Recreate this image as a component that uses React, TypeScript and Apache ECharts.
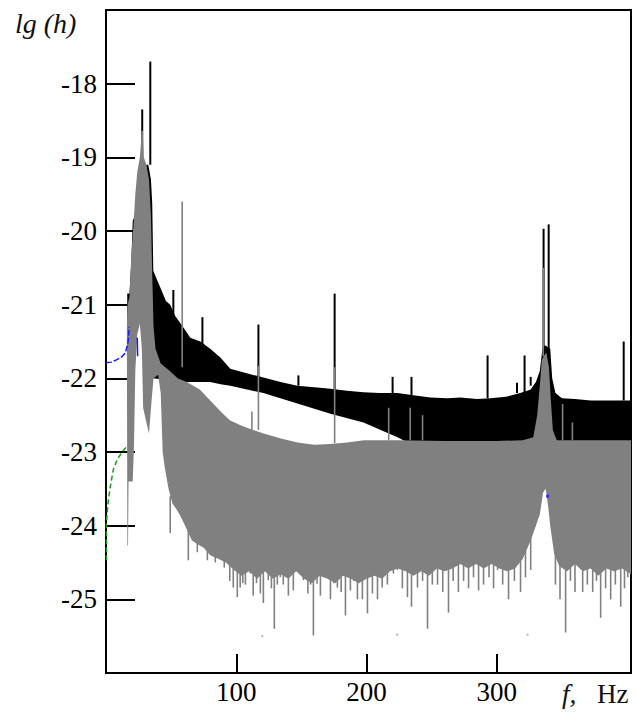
import React, { useEffect, useRef } from "react";
import * as echarts from "echarts";

const X_MIN = 0;
const X_MAX = 403;
const Y_MIN = -26;
const Y_MAX = -17;
const X_TICKS = [100, 200, 300];
const Y_TICKS = [-18, -19, -20, -21, -22, -23, -24, -25];

// black spectrum envelope (upper edge, lower edge)
const BLACK_TOP: [number, number][] = [
  [16.3, -20.85], [18, -20.85], [19.5, -20.4], [20.5, -19.86], [22, -19.8], [24, -19.5], [26, -19.3],
  [27.5, -19.2], [29, -19.3], [31, -19.1], [32.5, -19.1], [34.5, -19.3], [35.5, -19.63], [36.3, -20.54],
  [39.3, -20.67], [42.5, -20.8], [46, -20.95], [49.3, -21.0], [53, -21.15], [57, -21.25], [61, -21.35],
  [64.7, -21.45], [72.4, -21.5], [80, -21.6], [88, -21.72], [95.4, -21.87], [108, -21.93],
  [120.8, -21.99], [134, -22.05], [146.9, -22.1], [160, -22.12], [172.3, -22.14], [185, -22.17],
  [197.6, -22.19], [210, -22.2], [223.7, -22.2], [236, -22.23], [249, -22.26], [262, -22.27],
  [272, -22.26], [285, -22.28], [295, -22.27], [307, -22.25], [318, -22.2], [326, -22.15], [330, -22.05],
  [333, -21.9], [335, -21.6], [337, -21.55], [341, -21.6], [342.5, -22.0], [345, -22.2], [350, -22.27],
  [360, -22.28], [372, -22.3], [385, -22.3], [403, -22.3],
];
const BLACK_BOTTOM: [number, number][] = [
  [16.3, -21.7], [19, -21.4], [21, -20.8], [27, -20.5], [30, -20.9], [33, -21.5], [36, -22.0],
  [60, -22.05], [80, -22.05], [88, -22.08], [95.4, -22.1], [120.8, -22.2], [146.9, -22.34],
  [172.3, -22.48], [197.6, -22.6], [223.7, -22.8], [235, -22.9], [403, -22.9],
];

// grey spectrum envelope
const GREY_TOP: [number, number][] = [
  [16, -21.3], [16.5, -21.0], [18, -20.9], [19.5, -20.3], [21, -19.95], [22.5, -19.5], [24, -19.2],
  [26, -19.0], [27.3, -18.7], [28.3, -18.7], [29, -19.0], [31, -19.1], [33, -19.3], [34.5, -19.8],
  [35.5, -20.6], [36.5, -21.3], [38, -21.6], [42, -21.8], [49, -21.9], [55, -22.0], [62, -22.05],
  [72, -22.15], [80, -22.3], [88, -22.45], [95, -22.57], [105, -22.65], [121, -22.75], [135, -22.82],
  [147, -22.87], [160, -22.9], [172, -22.89], [185, -22.87], [198, -22.84], [224, -22.84],
  [260, -22.85], [300, -22.85], [320, -22.84], [328, -22.8], [331, -22.5], [333, -22.1],
  [334.5, -21.75], [336, -21.7], [338, -21.65], [340, -21.85], [341.5, -22.3], [343, -22.7],
  [346, -22.84], [403, -22.84],
];
const GREY_BOTTOM: [number, number][] = [
  [16, -21.3], [16.4, -24.27], [16.9, -24.27], [17.3, -23.4], [20.5, -23.4], [21.5, -22.9], [22.5, -21.9],
  [24, -21.4], [26, -21.26], [27.5, -21.6], [28.5, -22.4], [31, -22.6], [33, -22.75], [35, -22.3],
  [36.5, -22.0], [40, -21.95], [42, -22.2], [43.5, -23.0], [45, -23.2], [48, -23.5], [51, -23.7],
  [55, -23.8], [58, -23.9], [62, -24.05], [66, -24.2], [70, -24.25], [75, -24.3], [80, -24.4],
  [86, -24.45], [92, -24.5], [98, -24.6], [104, -24.68], [110, -24.62], [116, -24.72], [122, -24.62],
  [128, -24.72], [134, -24.66], [140, -24.72], [146, -24.62], [152, -24.72], [158, -24.78], [164, -24.68],
  [170, -24.72], [176, -24.78], [182, -24.68], [188, -24.72], [194, -24.78], [200, -24.72], [206, -24.68],
  [212, -24.72], [218, -24.62], [224, -24.58], [230, -24.62], [236, -24.68], [242, -24.62], [248, -24.68],
  [254, -24.58], [260, -24.62], [266, -24.58], [272, -24.52], [278, -24.58], [284, -24.52], [290, -24.58],
  [296, -24.52], [302, -24.58], [308, -24.62], [314, -24.58], [320, -24.45], [326, -24.2], [330, -24.0],
  [333, -23.85], [335.5, -23.55], [337.5, -23.5], [339.5, -23.75], [341, -24.0], [344, -24.38],
  [348, -24.55], [354, -24.62], [360, -24.52], [366, -24.62], [372, -24.58], [378, -24.68], [384, -24.58],
  [390, -24.62], [396, -24.58], [403, -24.66],
];

// narrow lines: [frequency, from, to]
const BLACK_SPIKES: [number, number, number][] = [
  [27.8, -19.2, -18.35], [34.0, -19.1, -17.7], [51.7, -21.2, -20.8], [74.0, -21.55, -21.17],
  [117.0, -22.0, -21.27], [147.7, -22.1, -21.96], [175.5, -22.15, -20.85], [220.0, -22.2, -21.98],
  [234.5, -22.23, -21.98], [292.9, -22.27, -21.69], [315.5, -22.2, -22.06], [321.3, -22.2, -21.69],
  [326.0, -22.1, -21.98], [335.9, -21.6, -19.97], [339.8, -21.6, -19.91], [397.4, -22.3, -21.5],
];
const GREY_SPIKES_UP: [number, number, number][] = [
  [27.8, -19.0, -18.64], [58.5, -21.85, -19.6], [112, -22.7, -22.45], [117.0, -22.7, -21.83],
  [175.5, -22.88, -21.85], [217, -22.84, -22.4], [233.5, -22.84, -22.4], [243, -22.84, -22.5],
  [335.6, -21.7, -20.5], [350.5, -22.84, -22.35], [358, -22.84, -22.6],
];
const GREY_SPIKES_DOWN: [number, number, number][] = [
  [49.3, -23.6, -24.1], [63.2, -24.0, -24.47], [70.1, -24.2, -24.36], [77.8, -24.3, -24.47],
  [83.9, -24.3, -24.5], [90.8, -24.4, -24.57], [95, -24.4, -24.75], [97.7, -24.4, -24.84],
  [100.8, -24.4, -24.97], [103, -24.4, -24.84], [105, -24.4, -24.78], [107, -24.4, -24.8],
  [110.8, -24.4, -24.65], [113, -24.4, -24.95], [115.5, -24.4, -24.78], [118.5, -24.4, -24.92],
  [120.8, -24.4, -25.05], [124.6, -24.4, -24.74], [127, -24.4, -24.85], [129.2, -24.4, -25.4],
  [131.5, -24.4, -24.8], [133.8, -24.4, -24.7], [136.1, -24.4, -24.8], [140, -24.4, -24.95],
  [143.8, -24.4, -24.88], [147.7, -24.4, -24.6], [151.5, -24.4, -24.74], [155, -24.4, -24.92],
  [157, -24.4, -24.8], [159.2, -24.4, -25.49], [162, -24.4, -24.79], [164.6, -24.4, -24.95],
  [168.4, -24.4, -24.6], [172.3, -24.4, -25.0], [175, -24.4, -24.78], [177.6, -24.4, -24.84],
  [180.5, -24.4, -24.9], [183.8, -24.4, -25.22], [187.6, -24.4, -24.88], [190.2, -24.4, -24.75],
  [193, -24.4, -25.0], [196.8, -24.4, -25.0], [200.7, -24.4, -25.19], [204.5, -24.4, -24.92],
  [208.4, -24.4, -25.0], [212, -24.4, -24.84], [216, -24.4, -24.8], [220.6, -24.4, -24.65],
  [223.7, -24.3, -24.6], [227.5, -24.3, -24.85], [231.4, -24.3, -24.97], [234.5, -24.3, -25.1],
  [239.1, -24.3, -24.84], [243, -24.3, -24.75], [246.8, -24.3, -25.4], [250.5, -24.3, -24.8],
  [254.5, -24.3, -24.8], [258.5, -24.3, -24.9], [262.9, -24.3, -25.18], [266.5, -24.3, -24.75],
  [270.5, -24.3, -24.9], [274.5, -24.3, -24.75], [278.3, -24.3, -24.85], [282.1, -24.3, -24.7],
  [286, -24.3, -24.88], [289.8, -24.3, -24.8], [294, -24.3, -24.7], [297.5, -24.3, -24.85],
  [300.6, -24.3, -24.6], [304.5, -24.3, -24.8], [309, -24.3, -25.0], [313.5, -24.3, -24.75],
  [318.2, -24.3, -24.9], [322, -24.2, -24.7], [326, -24.0, -24.6], [345, -24.2, -24.8],
  [348.5, -24.3, -25.0], [352.8, -24.3, -25.45], [356.5, -24.3, -24.75], [360, -24.3, -24.9],
  [365.9, -24.3, -24.9], [369.5, -24.3, -24.8], [373.6, -24.3, -24.9], [376.5, -24.3, -24.75],
  [379.7, -24.3, -25.25], [383.5, -24.3, -24.85], [387.4, -24.3, -25.0], [391, -24.3, -24.8],
  [395.1, -24.3, -25.1], [398, -24.3, -24.85], [400.5, -24.3, -24.7],
];
const GREY_DOTS: [number, number][] = [[120, -25.5], [223.5, -25.48], [323.6, -25.48]];

// model curves at low frequency
const BLUE_CURVE: [number, number][] = [
  [0, -21.79], [4, -21.78], [8, -21.75], [12, -21.71], [15, -21.65], [17, -21.5], [17.8, -21.3],
];
const BLUE_NOTCH: [number, number][] = [[24.0, -21.45], [24.3, -21.7]];
const BLUE_DOT: [number, number][] = [[339, -23.6]];
const GREEN_CURVE: [number, number][] = [
  [0.3, -24.47], [0.3, -23.97], [1.5, -23.7], [3.2, -23.48], [5.5, -23.25], [8.6, -23.1],
  [12.4, -23.0], [14.8, -22.95], [16.5, -22.92],
];

const FONT = "'Liberation Serif', 'Times New Roman', serif";

function bandSeries(top: [number, number][], bottom: [number, number][], color: string) {
  return {
    type: "custom",
    coordinateSystem: "cartesian2d",
    clip: true,
    silent: true,
    data: top,
    encode: { x: 0, y: 1 },
    renderItem: (params: any, api: any) => {
      if (params.dataIndex !== 0) return null;
      const pts = [
        ...top.map((p) => api.coord(p)),
        ...bottom.slice().reverse().map((p) => api.coord(p)),
      ];
      return { type: "polygon", shape: { points: pts }, style: { fill: color } };
    },
  };
}

function spikeSeries(data: [number, number, number][], color: string, width: number) {
  return {
    type: "custom",
    coordinateSystem: "cartesian2d",
    clip: true,
    silent: true,
    data,
    encode: { x: 0, y: [1, 2] },
    renderItem: (_params: any, api: any) => {
      const a = api.coord([api.value(0), api.value(1)]);
      const b = api.coord([api.value(0), api.value(2)]);
      return {
        type: "line",
        shape: { x1: a[0], y1: a[1], x2: b[0], y2: b[1] },
        style: { stroke: color, lineWidth: width },
      };
    },
  };
}

export default function App() {
  const ref = useRef<HTMLDivElement>(null);
  useEffect(() => {
    if (!ref.current) return;
    const chart = echarts.init(ref.current, undefined, { renderer: "svg" });
    chart.setOption({
      animation: false,
      backgroundColor: "#ffffff",
      grid: {
        left: 106,
        right: 6,
        top: 10,
        bottom: 42,
        show: true,
        borderColor: "#000",
        borderWidth: 2,
        backgroundColor: "transparent",
      },
      xAxis: {
        type: "value",
        min: X_MIN,
        max: X_MAX,
        splitLine: { show: false },
        axisLine: { show: true, lineStyle: { color: "#000", width: 2 } },
        axisTick: {
          show: true,
          inside: true,
          length: 19,
          customValues: X_TICKS,
          lineStyle: { color: "#000", width: 2 },
        },
        axisLabel: {
          customValues: X_TICKS,
          margin: 5,
          color: "#000",
          fontSize: 27,
          fontFamily: FONT,
        },
      },
      yAxis: {
        type: "value",
        min: Y_MIN,
        max: Y_MAX,
        splitLine: { show: false },
        axisLine: { show: true, lineStyle: { color: "#000", width: 2 } },
        axisTick: {
          show: true,
          inside: true,
          length: 29,
          customValues: Y_TICKS,
          lineStyle: { color: "#000", width: 2 },
        },
        axisLabel: {
          customValues: Y_TICKS,
          margin: 9,
          color: "#000",
          fontSize: 27,
          fontFamily: FONT,
        },
      },
      graphic: [
        {
          type: "text",
          left: 15,
          top: 9,
          style: { text: "lg (h)", font: `italic 28px ${FONT}`, fill: "#111" },
        },
        {
          type: "text",
          left: 562,
          top: 680,
          style: { text: "f,", font: `italic 27px ${FONT}`, fill: "#111" },
        },
        {
          type: "text",
          left: 597,
          top: 680,
          style: { text: "Hz", font: `27px ${FONT}`, fill: "#111" },
        },
      ],
      series: [
        bandSeries(BLACK_TOP, BLACK_BOTTOM, "#000000"),
        spikeSeries(BLACK_SPIKES, "#000000", 2),
        {
          type: "line",
          data: BLUE_CURVE,
          showSymbol: false,
          silent: true,
          lineStyle: { color: "#1a1aff", width: 1.5, type: [6, 2] },
        },
        bandSeries(GREY_TOP, GREY_BOTTOM, "#808080"),
        spikeSeries(GREY_SPIKES_UP, "#808080", 1.6),
        spikeSeries(GREY_SPIKES_DOWN, "#808080", 1.6),
        {
          type: "line",
          data: BLUE_NOTCH,
          showSymbol: false,
          silent: true,
          lineStyle: { color: "#1a1aff", width: 1.5 },
        },
        {
          type: "scatter",
          data: GREY_DOTS,
          symbol: "rect",
          symbolSize: 2,
          silent: true,
          itemStyle: { color: "#a0a0a0" },
        },
        {
          type: "scatter",
          data: BLUE_DOT,
          symbol: "rect",
          symbolSize: 3,
          silent: true,
          itemStyle: { color: "#1a1aff" },
        },
        {
          type: "line",
          data: GREEN_CURVE,
          showSymbol: false,
          silent: true,
          lineStyle: { color: "#1a9a1a", width: 1.5, type: [5, 3] },
        },
      ],
    });
    return () => chart.dispose();
  }, []);
  return (
    <div
      ref={ref}
      style={{ position: "fixed", left: 0, top: 0, width: 637, height: 715, background: "#fff" }}
    />
  );
}
